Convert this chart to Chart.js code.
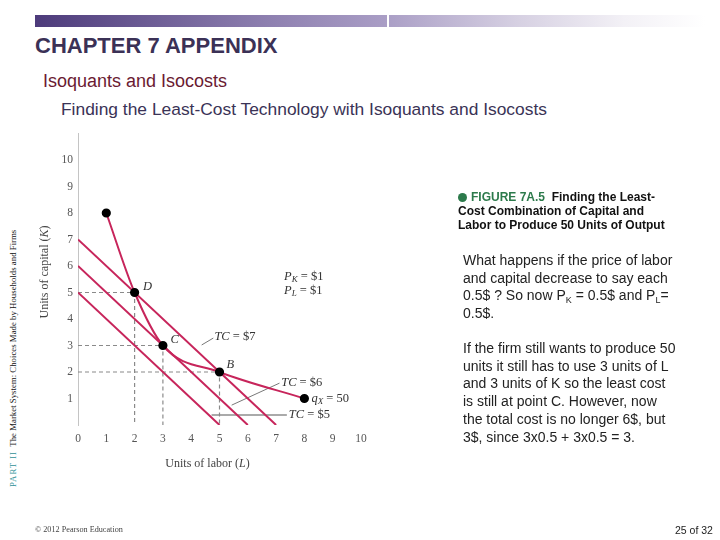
<!DOCTYPE html>
<html>
<head>
<meta charset="utf-8">
<script src="https://cdn.jsdelivr.net/npm/chart.js@4/dist/chart.umd.min.js"></script>
<style>
  html, body { margin:0; padding:0; background:#fff; }
  #page { position:relative; width:720px; height:540px; overflow:hidden; background:#fff; }
  #chart { position:absolute; left:0; top:0; }
  .abs { position:absolute; white-space:nowrap; }
  #bar { position:absolute; left:35px; top:15px; width:670px; height:12px;
         background: linear-gradient(90deg, #4d3b7b 0%, #8e80b0 35%, #a99dc5 52%, #d6d0e2 72%, #f3f1f6 88%, #ffffff 100%); }
  #barDiv { position:absolute; left:387px; top:14px; width:2px; height:14px; background:#fff; }
  #t1 { left:35px; top:33px; font:bold 22px "Liberation Sans Narrow","Liberation Sans",Arial,sans-serif; color:#3b3156; }
  #t2 { left:43px; top:71px; font:18px "Liberation Sans Narrow","Liberation Sans",Arial,sans-serif; color:#6a1a32; }
  #t3 { left:61px; top:99px; font:17.4px "Liberation Sans",Arial,sans-serif; color:#3a3356; }
  #side { left:8px; top:487px; transform-origin:0 0; transform:rotate(-90deg); font:8.8px "Liberation Serif","DejaVu Serif",serif; color:#111; }
  #side b { color:#2f9197; font-weight:normal; letter-spacing:1px; }
  #fig { left:458px; top:190px; font:bold 12px "Liberation Sans",Arial,sans-serif; color:#111; line-height:14px; }
  #fig .g { color:#2c7a4b; }
  #fig .dot { display:inline-block; width:9px; height:9px; border-radius:50%; background:#2c7a4b; margin-right:4px; vertical-align:-1px; }
  .para { left:463px; font:14px "Liberation Sans",Arial,sans-serif; color:#222; line-height:17.7px; }
  #p1 { top:252px; }
  #p2 { top:340px; }
  sub { font-size:9px; vertical-align:-3px; line-height:0; }
  #foot { left:35px; top:525px; font:8.2px "Liberation Serif",serif; color:#444; }
  #pg { left:675px; top:524px; font:10.5px "Liberation Sans",Arial,sans-serif; color:#222; }
</style>
</head>
<body>
<div id="page">
  <div id="bar"></div><div id="barDiv"></div>
  <div class="abs" id="t1">CHAPTER 7 APPENDIX</div>
  <div class="abs" id="t2">Isoquants and Isocosts</div>
  <div class="abs" id="t3">Finding the Least-Cost Technology with Isoquants and Isocosts</div>
  <div class="abs" id="side"><b>PART II</b>&nbsp; The Market System: Choices Made by Households and Firms</div>
  <canvas id="chart" width="720" height="540"></canvas>
  <div class="abs" id="fig"><span class="dot"></span><span class="g">FIGURE 7A.5</span>&nbsp; Finding the Least-<br>Cost Combination of Capital and<br>Labor to Produce 50 Units of Output</div>
  <div class="abs para" id="p1">What happens if the price of labor<br>and capital decrease to say each<br>0.5$ ? So now P<sub>K</sub> = 0.5$ and P<sub>L</sub>=<br>0.5$.</div>
  <div class="abs para" id="p2">If the firm still wants to produce 50<br>units it still has to use 3 units of L<br>and 3 units of K so the least cost<br>is still at point C. However, now<br>the total cost is no longer 6$, but<br>3$, since 3x0.5 + 3x0.5 = 3.</div>
  <div class="abs" id="foot">© 2012 Pearson Education</div>
  <div class="abs" id="pg">25 of 32</div>
</div>
<script>
// ---- data ----
const laborUnits   = [1, 2, 3, 5, 8];        // L on isoquant qX = 50
const capitalUnits = [8, 5, 3, 2, 1];        // K on isoquant qX = 50
const pointNames   = ['', 'D', 'C', 'B', ''];
const totalCosts   = [7, 6, 5];              // isocost lines, $
const priceK = 1, priceL = 1;
const guidePoints  = ['D', 'C', 'B'];        // points with dashed guides
const xTicks = [0,1,2,3,4,5,6,7,8,9,10];
const yTicks = [1,2,3,4,5,6,7,8,9,10];

const RED = '#c7255b';
const isoquant = laborUnits.map((l, i) => ({x: l, y: capitalUnits[i]}));
const datasets = [];
datasets.push({ data: isoquant, borderColor: RED, borderWidth: 2, pointRadius: 3.6,
  pointBackgroundColor: '#000', pointBorderColor: '#000', cubicInterpolationMode: 'monotone', order: 0 });
totalCosts.forEach(tc => datasets.push({ data: [{x: 0, y: tc / priceK}, {x: tc / priceL, y: 0}],
  borderColor: RED, borderWidth: 2, pointRadius: 0, order: 2 }));
guidePoints.forEach(n => { const i = pointNames.indexOf(n);
  datasets.push({ data: [{x: 0, y: capitalUnits[i]}, {x: laborUnits[i], y: capitalUnits[i]}, {x: laborUnits[i], y: 0}],
    borderColor: '#8a8a8a', borderWidth: 1.2, borderDash: [4, 3], pointRadius: 0, order: 3 }); });
// leader lines for labels (data units)
const leaders = [
  { from: [4.37, 3.02], to: [4.78, 3.28], color: '#555', w: 0.8 },
  { from: [5.43, 0.75], to: [7.12, 1.58], color: '#555', w: 0.8 },
  { from: [4.72, 0.38], to: [7.38, 0.38], color: '#aaa', w: 2 }
];
leaders.forEach(l => datasets.push({ data: [{x: l.from[0], y: l.from[1]}, {x: l.to[0], y: l.to[1]}],
  borderColor: l.color, borderWidth: l.w, pointRadius: 0, order: 4 }));

// text annotations: runs with italic / subscript
const labels = [
  { at: [2.3, 5.2],  runs: [{t: 'D', i: 1}] },
  { at: [3.27, 3.2], runs: [{t: 'C', i: 1}] },
  { at: [5.25, 2.27], runs: [{t: 'B', i: 1}] },
  { at: [4.82, 3.32], runs: [{t: 'TC', i: 1}, {t: ' = $7'}] },
  { at: [7.18, 1.6],  runs: [{t: 'TC', i: 1}, {t: ' = $6'}] },
  { at: [7.45, 0.38], runs: [{t: 'TC', i: 1}, {t: ' = $5'}] },
  { at: [7.28, 5.6],  runs: [{t: 'P', i: 1}, {t: 'K', i: 1, s: 1}, {t: ' = $1'}] },
  { at: [7.28, 5.07], runs: [{t: 'P', i: 1}, {t: 'L', i: 1, s: 1}, {t: ' = $1'}] },
  { at: [8.25, 1.0],  runs: [{t: 'q', i: 1}, {t: 'X', i: 1, s: 1}, {t: ' = 50'}] }
];
const FONT = '"Liberation Serif","DejaVu Serif",serif';

function drawRuns(ctx, x, y, runs, size, color) {
  ctx.fillStyle = color; ctx.textBaseline = 'middle'; ctx.textAlign = 'left';
  runs.forEach(r => {
    const fs = r.s ? size * 0.72 : size;
    ctx.font = (r.i ? 'italic ' : '') + fs + 'px ' + FONT;
    ctx.fillText(r.t, x, y + (r.s ? 3 : 0));
    x += ctx.measureText(r.t).width;
  });
}

const textPlugin = {
  id: 'texts',
  afterDatasetsDraw(chart) {
    const {ctx, scales: {x, y}} = chart;
    ctx.save();
    labels.forEach(l => drawRuns(ctx, x.getPixelForValue(l.at[0]), y.getPixelForValue(l.at[1]), l.runs, 12.5, '#333'));
    // axis titles
    const cx = (x.getPixelForValue(0) + x.getPixelForValue(10)) / 2;
    const parts = [{t: 'Units of labor ('}, {t: 'L', i: 1}, {t: ')'}];
    let w = 0; parts.forEach(p => { ctx.font = (p.i ? 'italic ' : '') + '12px ' + FONT; w += ctx.measureText(p.t).width; });
    drawRuns(ctx, cx - w / 2 - 12, y.getPixelForValue(0) + 39, parts, 12, '#444');
    ctx.translate(45, 272);
    ctx.rotate(-Math.PI / 2);
    const parts2 = [{t: 'Units of capital ('}, {t: 'K', i: 1}, {t: ')'}];
    w = 0; parts2.forEach(p => { ctx.font = (p.i ? 'italic ' : '') + '12px ' + FONT; w += ctx.measureText(p.t).width; });
    drawRuns(ctx, -w / 2, 0, parts2, 12, '#444');
    ctx.restore();
  }
};

new Chart(document.getElementById('chart'), {
  type: 'line',
  data: { datasets },
  options: {
    responsive: false, animation: false, devicePixelRatio: 1,
    layout: { padding: { left: 0, top: 133.5, right: 359, bottom: 0 } },
    plugins: { legend: { display: false }, tooltip: { enabled: false } },
    scales: {
      x: { type: 'linear', min: 0, max: 10,
        afterBuildTicks: s => { s.ticks = xTicks.map(v => ({value: v})); },
        ticks: { color: '#555', font: { family: FONT, size: 11.5 }, padding: 7 },
        grid: { display: false, drawTicks: false }, border: { display: false },
        afterFit: s => { s.height = 115; } },
      y: { type: 'linear', min: 0, max: 11,
        afterBuildTicks: s => { s.ticks = yTicks.map(v => ({value: v})); },
        ticks: { color: '#555', font: { family: FONT, size: 11.5 }, padding: 5 },
        grid: { display: false, drawTicks: false }, border: { display: true, color: '#c4c4c4', width: 1 },
        afterFit: s => { s.width = 78; } }
    }
  },
  plugins: [textPlugin]
});
</script>
</body>
</html>
